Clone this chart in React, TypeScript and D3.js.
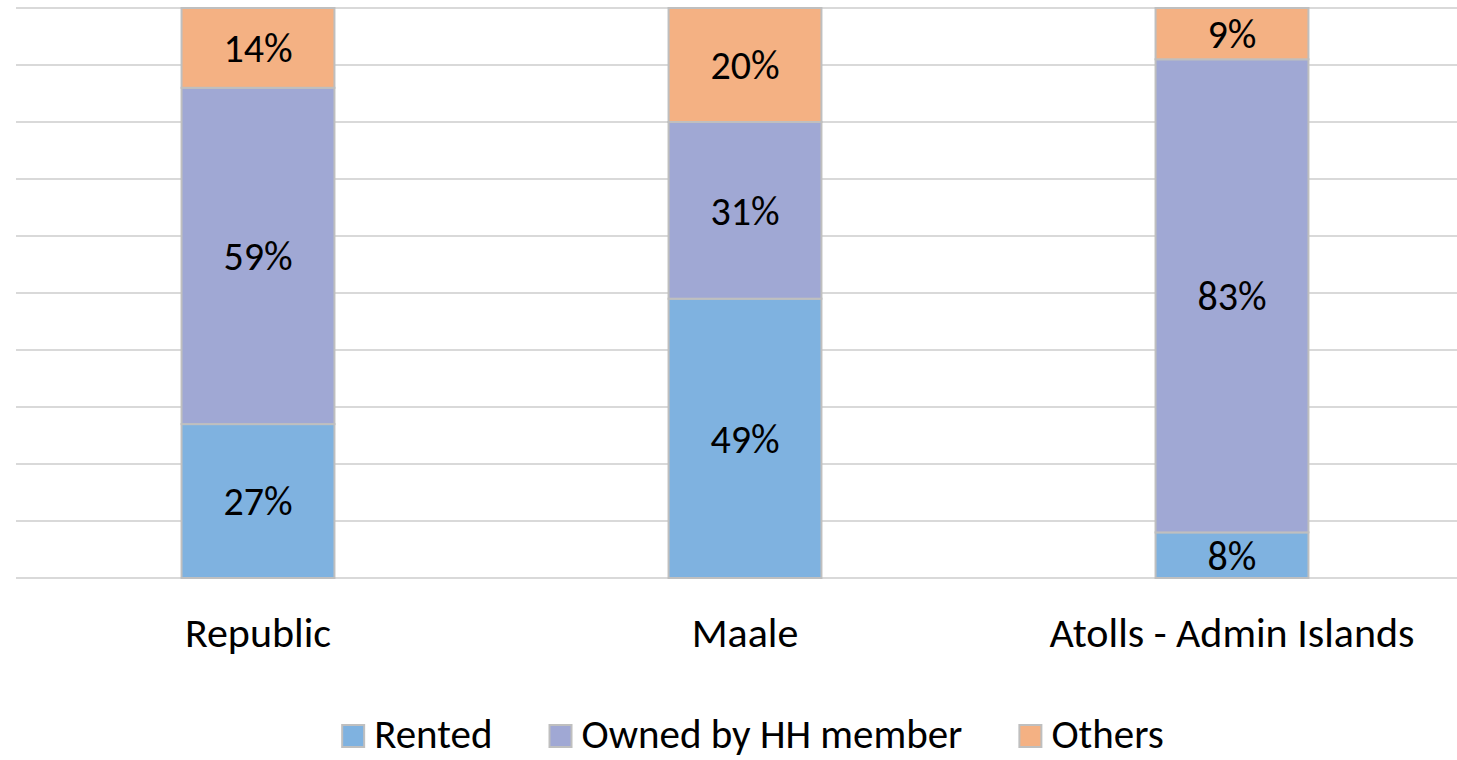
import React, { useRef, useEffect } from 'react'
import * as d3 from 'd3'

// categories and shares (percent of households)
const categories = ['Republic', 'Maale', 'Atolls - Admin Islands']
const seriesNames = ['Rented', 'Owned by HH member', 'Others']
const rented = [27, 49, 8]
const owned = [59, 31, 83]
const others = [14, 20, 9]
const colors = ['#7FB2E0', '#A0A8D4', '#F4B183']

const W = 1457
const H = 760
const FONT = 'Carlito, Calibri, Lato, "Open Sans", sans-serif'

export default function App() {
  const ref = useRef<SVGSVGElement>(null)

  useEffect(() => {
    const svg = d3.select(ref.current)
    svg.selectAll('*').remove()

    const rows = categories.map((c, i) => ({
      cat: c,
      Rented: rented[i],
      'Owned by HH member': owned[i],
      Others: others[i],
    }))
    const stack = d3.stack<any>().keys(seriesNames)(rows)

    const x = d3.scaleBand().domain(categories).range([14.5, 1475.5])
    const barW = x.bandwidth() * 0.314
    const y = d3.scaleLinear().domain([0, 100]).range([578, 8])
    const color = d3.scaleOrdinal<string>().domain(seriesNames).range(colors)

    // gridlines
    svg.append('g')
      .selectAll('line')
      .data(d3.range(0, 101, 10))
      .join('line')
      .attr('x1', 16).attr('x2', W)
      .attr('y1', d => y(d)).attr('y2', d => y(d))
      .attr('stroke', '#D9D9D9').attr('stroke-width', 2)

    // bars
    const layer = svg.append('g')
      .selectAll('g')
      .data(stack)
      .join('g')
      .attr('fill', d => color(d.key))

    layer.selectAll('rect')
      .data(d => d)
      .join('rect')
      .attr('x', (d: any) => x(d.data.cat)! + (x.bandwidth() - barW) / 2)
      .attr('width', barW)
      .attr('y', d => y(d[1]))
      .attr('height', d => y(d[0]) - y(d[1]))
      .attr('stroke', '#BFBFBF').attr('stroke-width', 2)

    layer.selectAll('text')
      .data(d => d)
      .join('text')
      .attr('x', (d: any) => x(d.data.cat)! + x.bandwidth() / 2)
      .attr('y', d => (y(d[0]) + y(d[1])) / 2)
      .attr('dy', '0.36em')
      .attr('text-anchor', 'middle')
      .attr('fill', '#000')
      .style('font', `40px ${FONT}`)
      .text(d => `${d[1] - d[0]}%`)

    // category labels
    svg.append('g')
      .selectAll('text')
      .data(categories)
      .join('text')
      .attr('x', d => x(d)! + x.bandwidth() / 2)
      .attr('y', 647)
      .attr('text-anchor', 'middle')
      .style('font', `42px ${FONT}`)
      .attr('fill', '#000')
      .text(d => d)

    // legend, measured then centred
    const legend = svg.append('g')
    const items = legend.selectAll('g')
      .data(seriesNames)
      .join('g')
    items.append('rect')
      .attr('width', 22).attr('height', 22)
      .attr('y', -23)
      .attr('fill', d => color(d))
      .attr('stroke', '#BFBFBF').attr('stroke-width', 2)
    items.append('text')
      .attr('x', 32)
      .style('font', `41px ${FONT}`)
      .attr('fill', '#000')
      .text(d => d)

    let off = 0
    const offsets: number[] = []
    items.each(function () {
      offsets.push(off)
      const t = d3.select(this).select('text').node() as SVGTextElement
      off += 32 + t.getComputedTextLength() + 57
    })
    const total = off - 57
    items.attr('transform', (d, i) => `translate(${offsets[i]},0)`)
    legend.attr('transform', `translate(${753 - total / 2},748)`)
  }, [])

  return (
    <svg ref={ref} width={W} height={H} viewBox={`0 0 ${W} ${H}`}
      style={{ display: 'block', position: 'absolute', left: 0, top: 0, background: '#fff' }} />
  )
}
